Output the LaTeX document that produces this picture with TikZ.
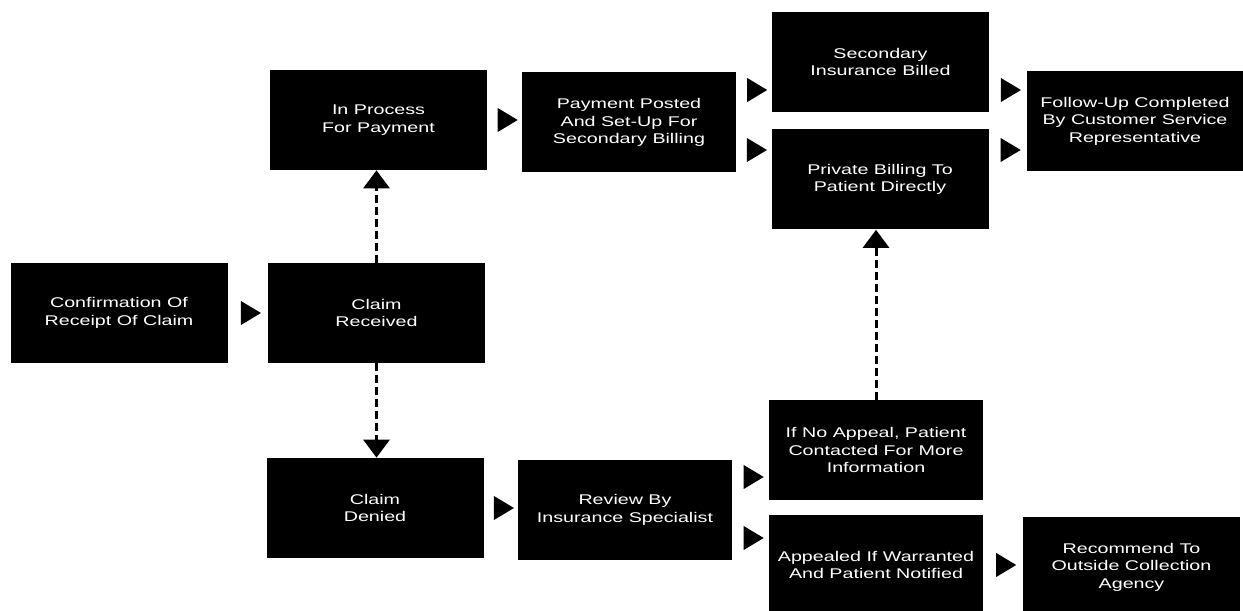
\documentclass[tikz,border=0pt]{standalone}
\usepackage{fontspec}
\newfontfamily\boxfont[FakeStretch=1.4]{Liberation Sans}
\usetikzlibrary{shapes.geometric,arrows.meta}

\begin{document}
\begin{tikzpicture}[
    blk/.style={fill=black, text=white, inner sep=0pt, minimum width=4.34cm, minimum height=2cm,
        align=center, font=\boxfont\fontsize{8}{10}\selectfont},
    tri/.style={isosceles triangle, isosceles triangle stretches, fill=black, inner sep=0pt,
        minimum width=0.48cm, minimum height=0.4cm},
    dashlink/.style={line width=1.7pt, dash pattern=on 0.16cm off 0.08cm,
        -{Triangle[width=0.52cm,length=0.36cm]}}
]
    \useasboundingbox (0,0) rectangle (24.86,12.22);
    \clip (0,0) rectangle (24.86,12.22);

    \node[blk] (conf) at (2.38, 5.96) {Confirmation Of\\Receipt Of Claim};
    \node[blk] (recv) at (7.53, 5.96) {Claim\\Received};
    \node[blk] (proc) at (7.57, 9.82) {In Process\\For Payment};
    \node[blk, minimum width=4.28cm] (posted) at (12.58, 9.77) {Payment Posted\\And Set-Up For\\Secondary Billing};
    \node[blk] (secins) at (17.61, 10.98) {Secondary\\Insurance Billed};
    \node[blk] (private) at (17.60, 8.63) {Private Billing To\\Patient Directly};
    \node[blk] (follow) at (22.70, 9.80) {Follow-Up Completed\\By Customer Service\\Representative};

    \node[blk] (denied) at (7.50, 2.06) {Claim\\Denied};
    \node[blk, minimum width=4.28cm] (review) at (12.50, 2.02) {Review By\\Insurance Specialist};
    \node[blk, minimum width=4.28cm] (noappeal) at (17.52, 3.22) {If No Appeal, Patient\\Contacted For More\\Information};
    \node[blk, minimum width=4.28cm] (appealed) at (17.52, 0.92) {Appealed If Warranted\\And Patient Notified};
    \node[blk] (recommend) at (22.63, 0.88) {Recommend To\\Outside Collection\\Agency};

    \coordinate (upA) at (0, 10.42);
    \coordinate (upB) at (0, 9.22);
    \coordinate (lowA) at (0, 2.68);
    \coordinate (lowB) at (0, 1.46);

    \path (conf) -- node[tri] {} (recv);
    \path (proc.east) -- node[tri] {} (proc.east -| posted.west);
    \path (posted.east |- upA) -- node[tri] {} (secins.west |- upA);
    \path (posted.east |- upB) -- node[tri] {} (private.west |- upB);
    \path (secins.east |- upA) -- node[tri] {} (follow.west |- upA);
    \path (private.east |- upB) -- node[tri] {} (follow.west |- upB);
    \path (denied) -- node[tri] {} (denied -| review.west);
    \path (review.east |- lowA) -- node[tri] {} (noappeal.west |- lowA);
    \path (review.east |- lowB) -- node[tri] {} (appealed.west |- lowB);
    \path (appealed.east) -- node[tri] {} (appealed.east -| recommend.west);

    \draw[dashlink] (recv.north) -- (recv.north |- proc.south);
    \draw[dashlink] (recv.south) -- (recv.south |- denied.north);
    \draw[dashlink] (noappeal.north) -- (noappeal.north |- private.south);
\end{tikzpicture}
\end{document}
